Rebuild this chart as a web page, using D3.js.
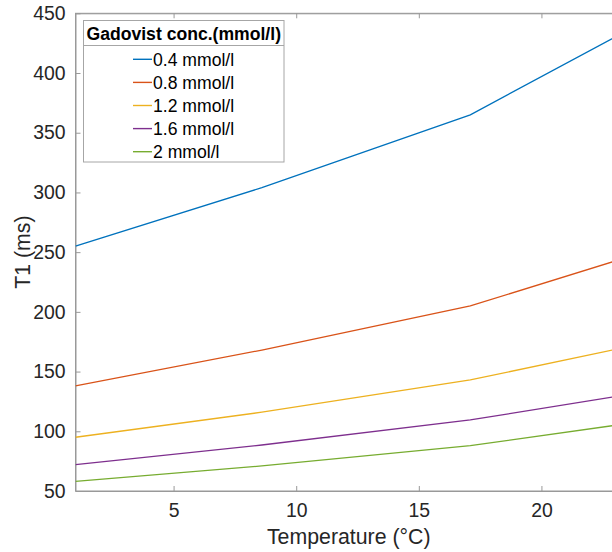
<!DOCTYPE html>
<html>
<head>
<meta charset="utf-8">
<script src="https://cdn.jsdelivr.net/npm/d3@7"></script>
<style>
  body { margin: 0; background: #fff; }
  svg { display: block; font-family: "Liberation Sans", Arial, sans-serif; }
</style>
</head>
<body>
<div id="chart"></div>
<script>
// temperature points (deg C)
var temps = [1, 8.6, 17.1, 23];
// T1 (ms) for each concentration
var conc04 = [255, 304, 365, 430];
var conc08 = [138, 168, 205, 242.5];
var conc12 = [95, 116, 143, 168.5];
var conc16 = [72, 88.5, 109.5, 129];
var conc20 = [58, 71, 88, 105];
var seriesNames = ["0.4 mmol/l", "0.8 mmol/l", "1.2 mmol/l", "1.6 mmol/l", "2 mmol/l"];
var xTicks = [5, 10, 15, 20];
var yTicks = [50, 100, 150, 200, 250, 300, 350, 400, 450];

var colors = ["#0072BD", "#D95319", "#EDB120", "#7E2F8E", "#77AC30"];
var allSeries = [conc04, conc08, conc12, conc16, conc20];

var W = 612, H = 552;
var margin = {top: 13.3, left: 75.5, bottom: 61};
var plotRight = 615;

var svg = d3.select("#chart").append("svg")
    .attr("width", W)
    .attr("height", H);

var x = d3.scaleLinear().domain([1, 23]).range([margin.left, plotRight]);
var y = d3.scaleLinear().domain([50, 450]).range([H - margin.bottom, margin.top]);

var axisColor = "#999999", textColor = "#262626";

// box
svg.append("rect")
    .attr("x", x(1)).attr("y", y(450))
    .attr("width", x(23) - x(1)).attr("height", y(50) - y(450))
    .attr("fill", "none").attr("stroke", axisColor).attr("stroke-width", 1);

// inward ticks, bottom and top
var xAxisB = d3.axisBottom(x).tickValues(xTicks).tickSizeInner(-5).tickSizeOuter(0).tickPadding(12);
var gx = svg.append("g").attr("transform", "translate(0," + y(50) + ")").call(xAxisB);
var xAxisT = d3.axisTop(x).tickValues(xTicks).tickSizeInner(-5).tickSizeOuter(0).tickFormat("");
var gxt = svg.append("g").attr("transform", "translate(0," + y(450) + ")").call(xAxisT);

var yAxisL = d3.axisLeft(y).tickValues(yTicks).tickSizeInner(-5).tickSizeOuter(0).tickPadding(10);
var gy = svg.append("g").attr("transform", "translate(" + x(1) + ",0)").call(yAxisL);

[gx, gxt, gy].forEach(function(g){
    g.select(".domain").attr("stroke", axisColor);
    g.selectAll(".tick line").attr("stroke", axisColor);
    g.selectAll("text").attr("fill", textColor).style("font-size", "19.4px")
        .style("font-family", "'Liberation Sans', Arial, sans-serif");
});

// lines
var line = d3.line()
    .x(function(d, i){ return x(temps[i]); })
    .y(function(d){ return y(d); });

svg.append("defs").append("clipPath").attr("id", "clip")
  .append("rect").attr("x", x(1)).attr("y", y(450))
  .attr("width", x(23) - x(1)).attr("height", y(50) - y(450));

svg.append("g").attr("clip-path", "url(#clip)")
  .selectAll("path.series").data(allSeries).enter()
  .append("path")
    .attr("class", "series")
    .attr("d", line)
    .attr("fill", "none")
    .attr("stroke", function(d, i){ return colors[i]; })
    .attr("stroke-width", 1.3);

// axis labels
svg.append("text")
    .attr("x", (x(1) + x(23)) / 2 + 3.5).attr("y", 544)
    .attr("text-anchor", "middle")
    .attr("fill", textColor)
    .style("font-size", "21.3px")
    .text("Temperature (°C)");

svg.append("text")
    .attr("transform", "translate(30," + ((y(50) + y(450)) / 2) + ") rotate(-90)")
    .attr("text-anchor", "middle")
    .attr("fill", textColor)
    .style("font-size", "21.3px")
    .text("T1 (ms)");

// legend
var lg = svg.append("g");
var lx = 83.5, ly = 20.5, lw = 200.5, lh = 141.5;
lg.append("rect")
    .attr("x", lx).attr("y", ly).attr("width", lw).attr("height", lh)
    .attr("fill", "#fff").attr("stroke", "#a6a6a6").attr("stroke-width", 1);
lg.append("line")
    .attr("x1", lx).attr("x2", lx + lw).attr("y1", 45.5).attr("y2", 45.5)
    .attr("stroke", "#a6a6a6");
lg.append("text")
    .attr("x", lx + lw / 2).attr("y", 39.5)
    .attr("text-anchor", "middle")
    .attr("fill", "#000")
    .style("font-size", "17.6px").style("font-weight", "bold")
    .text("Gadovist conc.(mmol/l)");

var items = lg.selectAll("g.item").data(seriesNames).enter()
  .append("g").attr("class", "item")
  .attr("transform", function(d, i){ return "translate(0," + (59.3 + i * 23.1) + ")"; });
items.append("line")
    .attr("x1", 133).attr("x2", 152).attr("y1", 0).attr("y2", 0)
    .attr("stroke", function(d, i){ return colors[i]; })
    .attr("stroke-width", 1.4);
items.append("text")
    .attr("x", 153).attr("y", 0).attr("dy", "0.36em")
    .attr("fill", "#000")
    .style("font-size", "17.6px")
    .text(function(d){ return d; });
</script>
</body>
</html>
